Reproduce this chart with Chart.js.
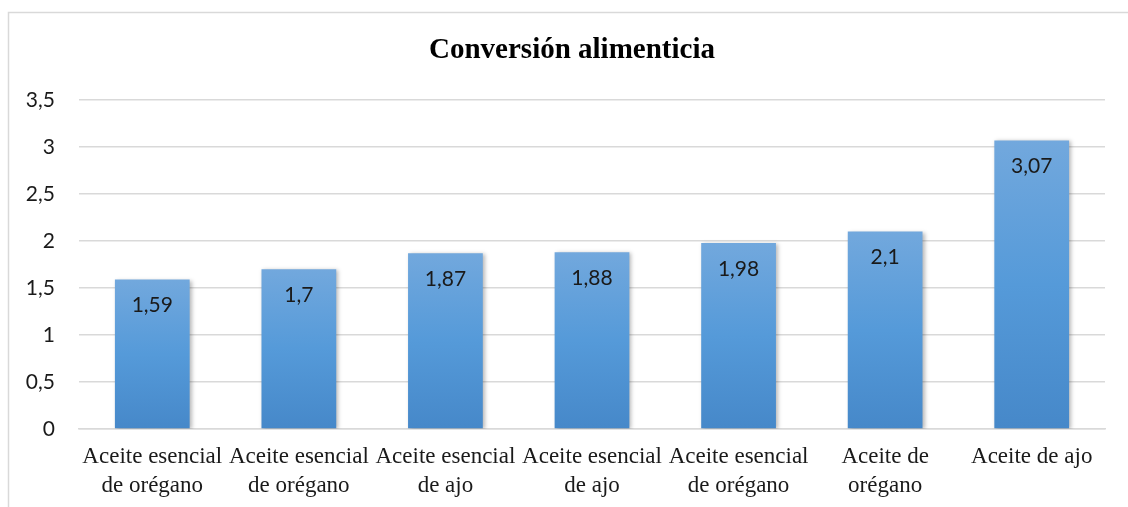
<!DOCTYPE html>
<html>
<head>
<meta charset="utf-8">
<script src="https://cdn.jsdelivr.net/npm/chart.js@4"></script>
<style>
  html,body{margin:0;padding:0;background:#fff;}
  #c{display:block;}
</style>
</head>
<body>
<canvas id="c" width="1128" height="507"></canvas>
<script>
const chartTitle = 'Conversión alimenticia';
const categories = [
  ['Aceite esencial', 'de orégano'],
  ['Aceite esencial', 'de orégano'],
  ['Aceite esencial', 'de ajo'],
  ['Aceite esencial', 'de ajo'],
  ['Aceite esencial', 'de orégano'],
  ['Aceite de', 'orégano'],
  ['Aceite de ajo']
];
const values = [1.59, 1.7, 1.87, 1.88, 1.98, 2.1, 3.07];
const yTicks = [0, 0.5, 1, 1.5, 2, 2.5, 3, 3.5];

const fmt = v => String(v).replace('.', ',');

const frame = {
  id: 'frame',
  beforeDraw(chart) {
    const ctx = chart.ctx;
    ctx.save();
    ctx.fillStyle = '#fff';
    ctx.fillRect(0, 0, chart.width, chart.height);
    ctx.strokeStyle = '#d9d9d9';
    ctx.lineWidth = 1.5;
    ctx.strokeRect(8.5, 12.5, chart.width + 20, chart.height + 20);
    ctx.restore();
  },
  afterLayout(chart) {
    // centre the title over the framed area rather than the padded canvas
    if (chart.titleBlock) chart.titleBlock.left += 29;
  }
};

const shadow = {
  id: 'shadow',
  beforeDatasetDraw(chart) {
    const ctx = chart.ctx;
    ctx.save();
    ctx.shadowColor = 'rgba(0,0,0,0.28)';
    ctx.shadowBlur = 4;
    ctx.shadowOffsetX = 2;
    ctx.shadowOffsetY = 1;
  },
  afterDatasetDraw(chart) {
    chart.ctx.restore();
  }
};

const valueLabels = {
  id: 'valueLabels',
  afterDatasetsDraw(chart) {
    const ctx = chart.ctx;
    const meta = chart.getDatasetMeta(0);
    ctx.save();
    ctx.font = '21px Lato';
    ctx.fillStyle = '#1a1a1a';
    ctx.textAlign = 'center';
    ctx.textBaseline = 'middle';
    meta.data.forEach((bar, i) => {
      ctx.fillText(fmt(values[i]), bar.x, bar.y + 26);
    });
    ctx.restore();
  }
};

new Chart(document.getElementById('c'), {
  type: 'bar',
  data: {
    labels: categories,
    datasets: [{
      data: values,
      backgroundColor(context) {
        const chart = context.chart;
        const area = chart.chartArea;
        if (!area || context.type !== 'data') return '#5b9bd5';
        const ys = chart.scales.y;
        const top = ys.getPixelForValue(context.parsed.y);
        const bottom = ys.getPixelForValue(0);
        const g = chart.ctx.createLinearGradient(0, top, 0, bottom);
        g.addColorStop(0, '#72a8dd');
        g.addColorStop(0.5, '#559ad9');
        g.addColorStop(1, '#4688c9');
        return g;
      },
      borderWidth: 0,
      barPercentage: 0.51,
      categoryPercentage: 1
    }]
  },
  options: {
    responsive: false,
    animation: false,
    events: [],
    layout: { padding: { top: 33, left: 10, right: 23, bottom: 0 } },
    plugins: {
      legend: { display: false },
      tooltip: { enabled: false },
      title: {
        display: true,
        text: chartTitle,
        color: '#000',
        font: { family: 'Liberation Serif', size: 29, weight: 'bold', lineHeight: 1.2 },
        padding: { top: 0, bottom: 32.2 }
      }
    },
    scales: {
      x: {
        grid: { display: false, drawTicks: false },
        border: { display: true, color: '#d9d9d9', width: 1.5 },
        ticks: {
          autoSkip: false,
          maxRotation: 0,
          minRotation: 0,
          color: '#1a1a1a',
          padding: 13,
          font: { family: 'Liberation Serif', size: 23, lineHeight: 1.26 }
        },
        afterFit(scale) { scale.height = 78; }
      },
      y: {
        min: 0,
        max: 3.5,
        afterBuildTicks(scale) { scale.ticks = yTicks.map(v => ({ value: v })); },
        grid: { color: '#d9d9d9', lineWidth: 1.5, drawTicks: false },
        border: { display: false },
        ticks: {
          color: '#1a1a1a',
          padding: 24,
          font: { family: 'Lato', size: 21 },
          callback: v => fmt(v)
        },
        afterFit(scale) { scale.width = 69; }
      }
    }
  },
  plugins: [frame, shadow, valueLabels]
});
</script>
</body>
</html>
